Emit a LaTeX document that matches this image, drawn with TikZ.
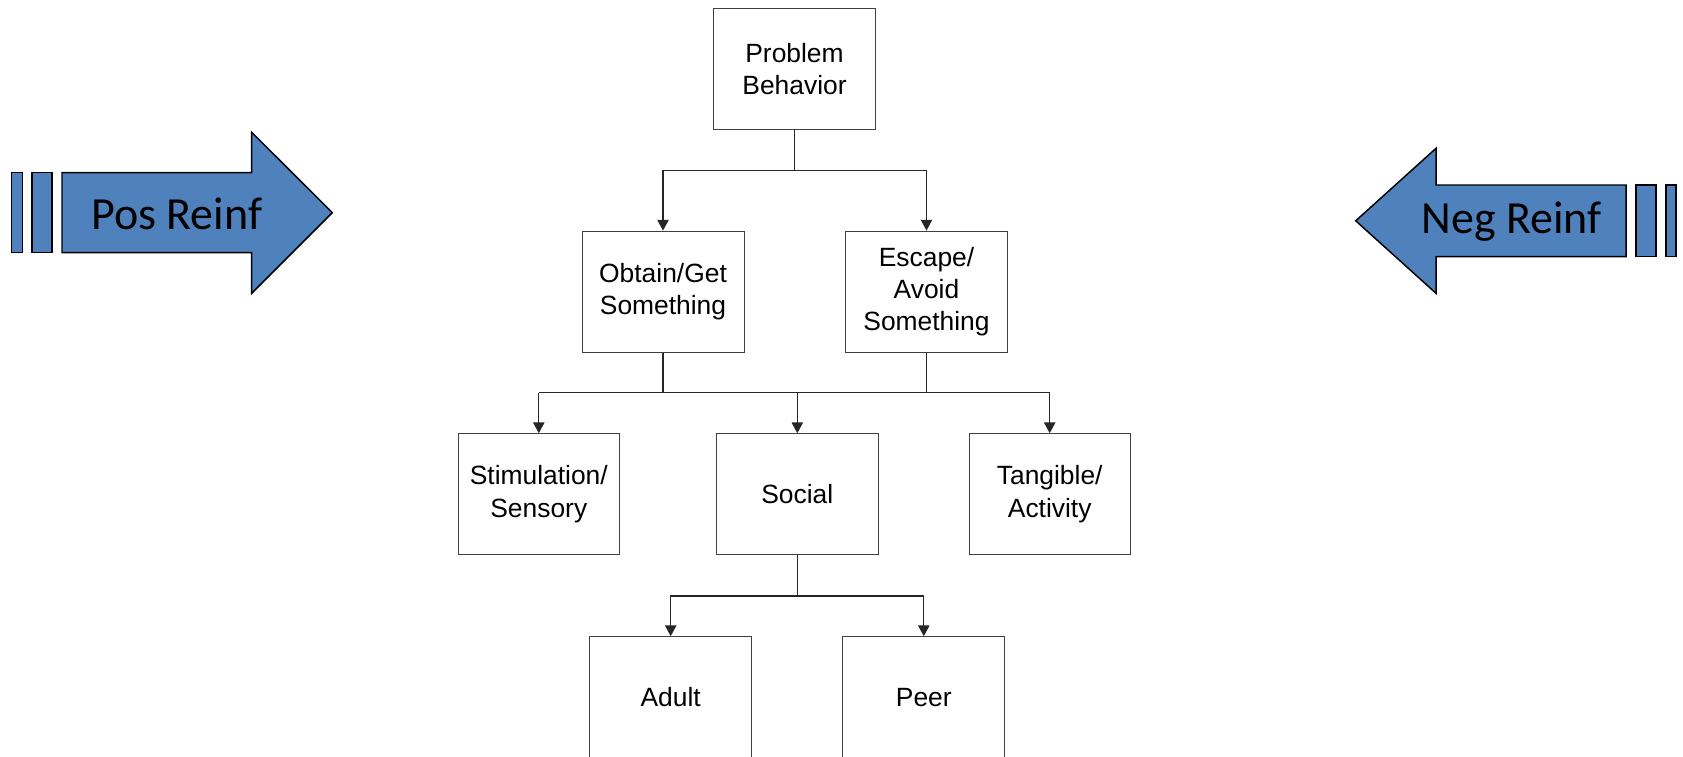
\documentclass[tikz,border=0pt]{standalone}
\usepackage{fontspec}
\setmainfont{Liberation Sans}
\newfontfamily\calib{Carlito}
\usetikzlibrary{arrows.meta}
\definecolor{accblue}{HTML}{4F81BD}
\definecolor{boxline}{HTML}{404040}
\tikzset{
  box/.style={draw=boxline, line width=0.75pt, rectangle, minimum width=162*0.75pt, minimum height=121.3*0.75pt, align=center, inner sep=0pt, font=\fontsize{19.8}{24.2}\selectfont},
  conn/.style={draw=black!85, line width=0.8pt},
  connarrow/.style={conn, -{Triangle[length=8pt,width=8.5pt]}},
  blockarrow/.style={fill=accblue, draw=black, line width=1.1pt, line join=miter},
  arrowtext/.style={font=\calib\fontsize{34.5}{40}\selectfont, inner sep=0pt}
}
\begin{document}
\begin{tikzpicture}[x=0.75pt, y=-0.75pt]
\useasboundingbox (0,0) rectangle (1683,756);

% boxes
\node[box] (pb) at (794.5,69) {Problem\\Behavior};
\node[box] (obtain) at (663,291.7) {Obtain/Get\\Something};
\node[box] (escape) at (926.5,291.7) {Escape/\\Avoid\\Something};
\node[box, minimum width=161*0.75pt] (stim) at (538.8,494.3) {Stimulation/\\Sensory};
\node[box] (social) at (797.3,494.3) {Social};
\node[box, minimum width=161*0.75pt] (tang) at (1049.7,494.3) {Tangible/\\Activity};
\node[box] (adult) at (670.7,697.3) {Adult};
\node[box] (peer) at (923.8,697.3) {Peer};

% junction coordinates
\coordinate (j1) at (794.5,170.3);
\coordinate (j2) at (797.3,392.8);
\coordinate (j3) at (797.3,596);

% connectors level 1
\draw[conn] (pb.south) -- (pb.south |- j1);
\draw[connarrow] (pb.south |- j1) -| (obtain.north);
\draw[connarrow] (pb.south |- j1) -| (escape.north);

% connectors level 2
\draw[conn] (obtain.south) -- (obtain.south |- j2);
\draw[conn] (escape.south) -- (escape.south |- j2);
\draw[conn] (stim.north |- j2) -- (tang.north |- j2);
\draw[connarrow] (stim.north |- j2) -- (stim.north);
\draw[connarrow] (social.north |- j2) -- (social.north);
\draw[connarrow] (tang.north |- j2) -- (tang.north);

% connectors level 3
\draw[conn] (social.south) -- (social.south |- j3);
\draw[connarrow] (social.south |- j3) -| (adult.north);
\draw[connarrow] (social.south |- j3) -| (peer.north);

% left block arrow
\draw[blockarrow] (11.7,172.7) rectangle (22.3,252.7);
\draw[blockarrow] (32,172.7) rectangle (52,252.7);
\draw[blockarrow] (62,172.7) -- (251.7,172.7) -- (251.7,132.3) -- (332.3,212.7) -- (251.7,293.3) -- (251.7,252.7) -- (62,252.7) -- cycle;
\node[arrowtext] (pos) at (176.7,214) {Pos Reinf};

% right block arrow
\draw[blockarrow] (1666,185) rectangle (1676,256.7);
\draw[blockarrow] (1636,185) rectangle (1656,256.7);
\draw[blockarrow] (1626,185) -- (1436,185) -- (1436,148.3) -- (1355.7,220.8) -- (1436,293.3) -- (1436,256.7) -- (1626,256.7) -- cycle;
\node[arrowtext] (neg) at (1511.7,222) {Neg Reinf};
\end{tikzpicture}
\end{document}
